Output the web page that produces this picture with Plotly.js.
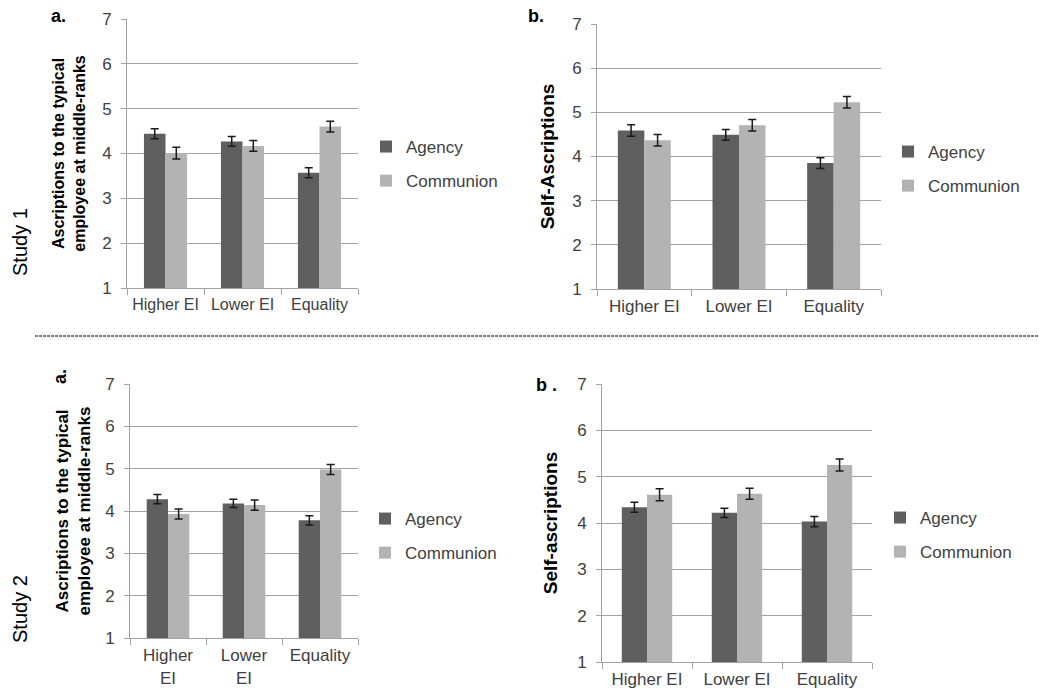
<!DOCTYPE html>
<html>
<head>
<meta charset="utf-8">
<script src="https://cdn.plot.ly/plotly-3.0.1.min.js"></script>
<style>html,body{margin:0;padding:0;background:#fff;}#chart{width:1039px;height:700px;}</style>
</head>
<body>
<div id="chart"></div>
<script>
// ---- Data ----
const categories = ['Higher EI', 'Lower EI', 'Equality'];
const tickTextStacked = ['Higher<br>EI', 'Lower<br>EI', 'Equality'];
const seriesNames = ['Agency', 'Communion'];

// Study 1 a. Ascriptions to the typical employee at middle-ranks
const s1aAgency = [4.44, 4.27, 3.57];
const s1aAgencyErr = [0.11, 0.11, 0.11];
const s1aCommunion = [4.01, 4.17, 4.60];
const s1aCommunionErr = [0.13, 0.12, 0.12];

// Study 1 b. Self-Ascriptions
const s1bAgency = [4.59, 4.49, 3.85];
const s1bAgencyErr = [0.13, 0.12, 0.12];
const s1bCommunion = [4.37, 4.71, 5.23];
const s1bCommunionErr = [0.13, 0.13, 0.13];

// Study 2 a. Ascriptions to the typical employee at middle-ranks
const s2aAgency = [4.28, 4.18, 3.78];
const s2aAgencyErr = [0.11, 0.10, 0.11];
const s2aCommunion = [3.93, 4.14, 4.98];
const s2aCommunionErr = [0.12, 0.12, 0.12];

// Study 2 b. Self-ascriptions
const s2bAgency = [4.34, 4.22, 4.03];
const s2bAgencyErr = [0.11, 0.10, 0.11];
const s2bCommunion = [4.61, 4.63, 5.25];
const s2bCommunionErr = [0.13, 0.12, 0.13];

const yTicks = [1, 2, 3, 4, 5, 6, 7];

// ---- Styles ----
const FONT = '"Liberation Sans", Arial, sans-serif';
const agencyColor = '#5f5f5f';
const communionColor = '#b3b3b3';
const gridColor = '#a3a3a3';
const textColor = '#404040';

function barTrace(name, y, err, color, xa, ya, legendId) {
  return {
    type: 'bar', name: name, x: categories, y: y,
    xaxis: xa, yaxis: ya, legend: legendId, legendgroup: name + legendId,
    marker: {color: color, line: {width: 0}},
    error_y: {type: 'data', array: err, visible: true, color: '#1a1a1a', thickness: 1.5, width: 4},
    hoverinfo: 'x+y'
  };
}

const data = [
  barTrace(seriesNames[0], s1aAgency, s1aAgencyErr, agencyColor, 'x', 'y', 'legend'),
  barTrace(seriesNames[1], s1aCommunion, s1aCommunionErr, communionColor, 'x', 'y', 'legend'),
  barTrace(seriesNames[0], s1bAgency, s1bAgencyErr, agencyColor, 'x2', 'y2', 'legend2'),
  barTrace(seriesNames[1], s1bCommunion, s1bCommunionErr, communionColor, 'x2', 'y2', 'legend2'),
  barTrace(seriesNames[0], s2aAgency, s2aAgencyErr, agencyColor, 'x3', 'y3', 'legend3'),
  barTrace(seriesNames[1], s2aCommunion, s2aCommunionErr, communionColor, 'x3', 'y3', 'legend3'),
  barTrace(seriesNames[0], s2bAgency, s2bAgencyErr, agencyColor, 'x4', 'y4', 'legend4'),
  barTrace(seriesNames[1], s2bCommunion, s2bCommunionErr, communionColor, 'x4', 'y4', 'legend4')
];

function xAxis(domain, anchor, ticktext, fsize) {
  const ax = {
    domain: domain, anchor: anchor, type: 'category',
    showline: true, linecolor: gridColor, linewidth: 1,
    ticks: 'outside', tickson: 'boundaries', ticklen: 6, tickcolor: gridColor,
    tickangle: 0, ticklabelstandoff: 2,
    showgrid: false, zeroline: false, fixedrange: true,
    tickfont: {family: FONT, size: fsize || 17, color: textColor}
  };
  if (ticktext) { ax.tickmode = 'array'; ax.tickvals = categories; ax.ticktext = ticktext; }
  return ax;
}
function yAxis(domain, anchor, title, tsize, standoff) {
  return {
    domain: domain, anchor: anchor, range: [1, 7], tickmode: 'array', tickvals: yTicks,
    showline: true, linecolor: gridColor, linewidth: 1,
    showgrid: true, gridcolor: gridColor, gridwidth: 1, zeroline: false,
    ticks: 'outside', ticklen: 5, tickcolor: gridColor, ticklabelstandoff: 6,
    tickfont: {family: FONT, size: 17, color: textColor}, fixedrange: true,
    title: {text: title, standoff: standoff, font: {family: FONT, size: tsize, color: '#000', weight: 'bold'}}
  };
}
function legendAt(xpx, ypx) {
  return {
    x: xpx / 1039, y: 1 - ypx / 700, xanchor: 'left', yanchor: 'middle',
    xref: 'paper', yref: 'paper', bgcolor: 'rgba(0,0,0,0)',
    traceorder: 'grouped', tracegroupgap: 9,
    font: {family: FONT, size: 17, color: textColor}
  };
}
function ann(text, xpx, ypx, size, angle) {
  return {
    text: text, x: xpx / 1039, y: 1 - ypx / 700, xref: 'paper', yref: 'paper',
    showarrow: false, textangle: angle || 0, xanchor: 'center', yanchor: 'middle',
    font: {family: FONT, size: size, color: '#000'}
  };
}

const layout = {
  width: 1039, height: 700,
  margin: {l: 0, r: 0, t: 0, b: 0},
  paper_bgcolor: '#fff', plot_bgcolor: '#fff',
  barmode: 'group', bargap: 0.44, bargroupgap: 0,
  font: {family: FONT, color: textColor},
  xaxis: xAxis([127 / 1039, 358 / 1039], 'y', null, 16),
  yaxis: yAxis([1 - 288 / 700, 1 - 19 / 700], 'x', 'Ascriptions to the typical<br>employee at middle-ranks', 16, 12),
  xaxis2: xAxis([597 / 1039, 881 / 1039], 'y2'),
  yaxis2: yAxis([1 - 289 / 700, 1 - 24 / 700], 'x2', 'Self-Ascriptions', 19, 12),
  xaxis3: xAxis([130 / 1039, 358 / 1039], 'y3', tickTextStacked),
  yaxis3: yAxis([1 - 638 / 700, 1 - 384 / 700], 'x3', 'Ascriptions to the typical<br>employee at middle-ranks', 17, 10),
  xaxis4: xAxis([602 / 1039, 872 / 1039], 'y4'),
  yaxis4: yAxis([1 - 662 / 700, 1 - 384 / 700], 'x4', 'Self-ascriptions', 19, 14),
  legend: legendAt(366, 164),
  legend2: legendAt(888, 169),
  legend3: legendAt(365, 536),
  legend4: legendAt(880, 535),
  annotations: [
    ann('<b>a.</b>', 58, 16, 18),
    ann('<b>b.</b>', 536, 16, 18),
    ann('<b>a.</b>', 60, 377, 18, -90),
    ann('<b>b .</b>', 546, 385, 18),
    ann('Study 1', 20, 242, 20, -90),
    ann('Study 2', 20, 609, 20, -90)
  ],
  shapes: [
    {type: 'line', xref: 'paper', yref: 'paper', x0: 35 / 1039, x1: 1, y0: 1 - 336 / 700, y1: 1 - 336 / 700,
     line: {color: '#555', width: 1.5, dash: '3px,1px'}}
  ]
};

Plotly.newPlot('chart', data, layout, {displayModeBar: false, staticPlot: true});
</script>
</body>
</html>
